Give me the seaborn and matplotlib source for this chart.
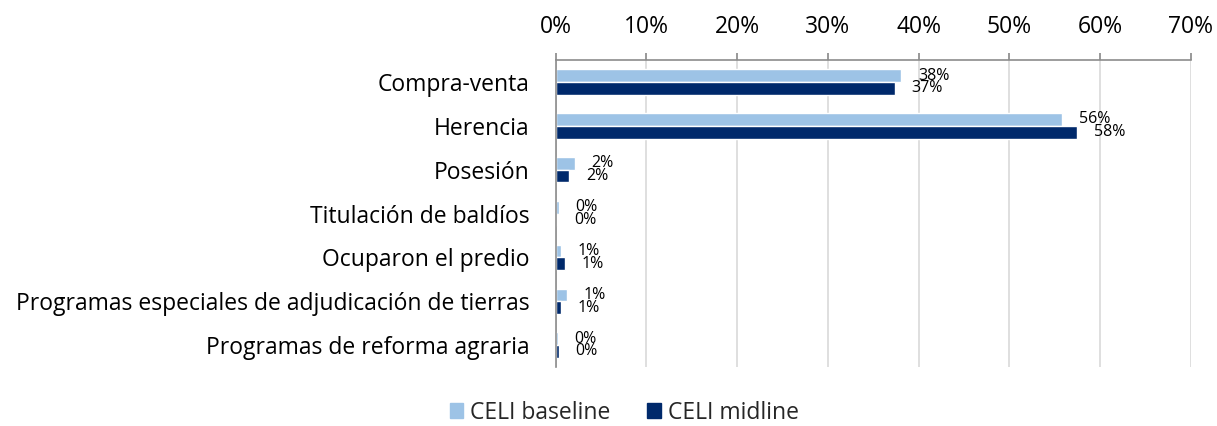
import matplotlib
matplotlib.use("Agg")
import matplotlib.pyplot as plt
import seaborn as sns
import pandas as pd
import numpy as np
from matplotlib.ticker import FuncFormatter, FixedLocator

categories = ["Compra-venta", "Herencia", "Posesión", "Titulación de baldíos",
              "Ocuparon el predio", "Programas especiales de adjudicación de tierras",
              "Programas de reforma agraria"]
series_names = ["CELI baseline", "CELI midline"]
baseline = [38.1, 55.8, 2.1, 0.35, 0.6, 1.3, 0.25]
midline = [37.4, 57.5, 1.5, 0.2, 1.0, 0.6, 0.35]
xticks = [0, 10, 20, 30, 40, 50, 60, 70]

colors = ["#9DC3E6", "#00296B"]

df = pd.DataFrame({
    "cat": categories * 2,
    "serie": [series_names[0]] * len(categories) + [series_names[1]] * len(categories),
    "val": baseline + midline,
})

sns.set_theme(style="white")
plt.rcParams["font.family"] = ["Open Sans", "DejaVu Sans"]

fig = plt.figure(figsize=(12.17, 4.26), dpi=100)
ax = fig.add_axes([0.4565, 0.1385, 0.522, 0.7205])

sns.barplot(data=df, y="cat", x="val", hue="serie", orient="h", palette=colors,
            width=0.58, ax=ax, saturation=1, legend=False)

ax.set_xlim(0, 70)
ax.set_ylim(len(categories) - 0.5, -0.5)
ax.xaxis.set_major_locator(FixedLocator(xticks))
ax.xaxis.set_major_formatter(FuncFormatter(lambda v, p: f"{int(v)}%"))
ax.xaxis.tick_top()
ax.xaxis.set_label_position("top")
ax.set_xlabel("")
ax.set_ylabel("")
ax.grid(axis="x", color="#D9D9D9", linewidth=1.2)
ax.set_axisbelow(True)

for s in ["right", "bottom"]:
    ax.spines[s].set_visible(False)
ax.spines["left"].set_color("#8C8C8C")
ax.spines["top"].set_color("#8C8C8C")
ax.spines["left"].set_linewidth(1.2)
ax.spines["top"].set_linewidth(1.2)

ax.tick_params(axis="x", which="major", direction="out", length=5, color="#8C8C8C",
               labelsize=16.5, pad=10, top=True, bottom=False, labelcolor="black")
ax.tick_params(axis="y", which="major", length=0, labelsize=16.5, pad=19, labelcolor="black")
ax.set_yticks(range(len(categories)), minor=False)
ax.set_yticks(np.arange(-0.5, len(categories), 1.0), minor=True)
ax.tick_params(axis="y", which="minor", direction="out", length=6, color="#8C8C8C")

for cont in ax.containers:
    ax.bar_label(cont, labels=[f"{v:.0f}%" for v in cont.datavalues], padding=12,
                 fontsize=11.5, color="black")

handles = [plt.Rectangle((0, 0), 1, 1, color=c) for c in colors]
fig.legend(handles, series_names, loc="lower center", bbox_to_anchor=(0.513, -0.045),
           ncol=2, frameon=False, fontsize=16.5, handlelength=0.6, handleheight=0.6,
           columnspacing=1.6, handletextpad=0.3)

fig.savefig("out.png", dpi=100)
